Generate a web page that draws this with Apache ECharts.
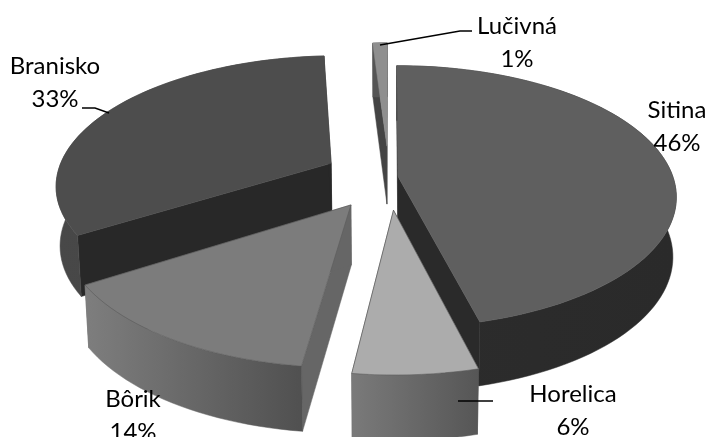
<!DOCTYPE html>
<html><head><meta charset="utf-8">
<style>html,body{margin:0;padding:0;background:#fff}#c{width:708px;height:437px}</style>
<script src="https://cdn.jsdelivr.net/npm/echarts@6/dist/echarts.min.js"></script>
</head><body><div id="c"></div>
<script>
const categories = ['Sitina','Horelica','Bôrik','Branisko','Lučivná'];
const shares = [46,6,14,33,1];
const explosions = [0.033,0.25,0.25,0.24,0.25];
const paintRank = [2,4,3,1,0];
const topColors = ['#5f5f5f','#acacac','#7c7c7c','#4d4d4d','#8f8f8f'];
const cutColors = ['#2a2a2a','#555555','#666666','#282828','#444444'];
const rimColors = [['#2c2c2c','#2a2a2a'],['#7a7a7a','#565656'],['#7e7e7e','#505050'],['#484848','#444444'],['#555555','#555555']];
const labelAnchors = [[677,110],[573,394],[133,399],[55,66],[517,26]];
const leaders = [[],[[458,401],[493,401]],[],[[82,108],[95,108],[109,113]],[[380,45],[460,31],[472,31]]];

const CX=389,CY=177,A=275,B=128,D=6.5,H=59;
function proj(X,Y,down){
  const p=D/(D-Y);
  let x=CX+A*X*p,y=CY+B*Y*p;
  if(down){x=CX+(x-CX)*0.988;y+=H*Math.sqrt(p);}
  return [x,y];
}
const total=shares.reduce((a,b)=>a+b,0);
const starts=[];shares.reduce((acc,v,i)=>{starts[i]=acc;return acc+v/total*360;},0);
const rad=d=>d*Math.PI/180;
function wedge(i){
  const t0=starts[i],t1=t0+shares[i]/total*360,mid=rad((t0+t1)/2),e=explosions[i];
  const ox=Math.sin(mid)*e,oy=-Math.cos(mid)*e,rim=[];
  const n=Math.max(2,Math.ceil((t1-t0)/2));
  for(let k=0;k<=n;k++){const t=rad(t0+(t1-t0)*k/n);rim.push([ox+Math.sin(t),oy-Math.cos(t)]);}
  return {apex:[ox,oy],rim};
}
function poly(points,fill,z2,stroke){
  return {type:'polygon',z2,shape:{points},silent:true,
    style:{fill,stroke:stroke||fill,lineWidth:stroke?0.6:0.5}};
}
function renderItem(params){
  const i=params.dataIndex,r=paintRank[i]*10,w=wedge(i),ch=[];
  const a=w.apex,rim=w.rim,first=rim[0],last=rim[rim.length-1];
  ch.push(poly([proj(a[0],a[1]),proj(first[0],first[1]),proj(first[0],first[1],1),proj(a[0],a[1],1)],cutColors[i],r));
  ch.push(poly([proj(a[0],a[1]),proj(last[0],last[1]),proj(last[0],last[1],1),proj(a[0],a[1],1)],cutColors[i],r+1));
  const rimTop=rim.map(q=>proj(q[0],q[1])),rimBot=rim.map(q=>proj(q[0],q[1],1)).reverse();
  ch.push(poly(rimTop.concat(rimBot),new echarts.graphic.LinearGradient(0,0,1,0,[
    {offset:0,color:rimColors[i][0]},{offset:1,color:rimColors[i][1]}]),r+2));
  ch.push(poly([proj(a[0],a[1])].concat(rimTop),topColors[i],r+3,(i===1||i===2)?'#5a5a5a':null));
  const L=leaders[i];
  if(L.length) ch.push({type:'polyline',z2:100,silent:true,shape:{points:L},style:{fill:'none',stroke:'#000',lineWidth:1.4}});
  ch.push({type:'text',z2:101,silent:true,style:{
    x:labelAnchors[i][0],y:labelAnchors[i][1]+16.5,text:categories[i]+'\n'+shares[i]+'%',
    align:'center',verticalAlign:'middle',fontFamily:'Lato',fontSize:24,lineHeight:33,fill:'#000'}});
  return {type:'group',children:ch};
}
const chart=echarts.init(document.getElementById('c'),null,{renderer:'canvas'});
chart.setOption({animation:false,backgroundColor:'#fff',
  series:[{type:'custom',coordinateSystem:'none',renderItem,clip:false,
    data:categories.map((n,i)=>({name:n,value:shares[i]}))}]});
</script></body></html>
